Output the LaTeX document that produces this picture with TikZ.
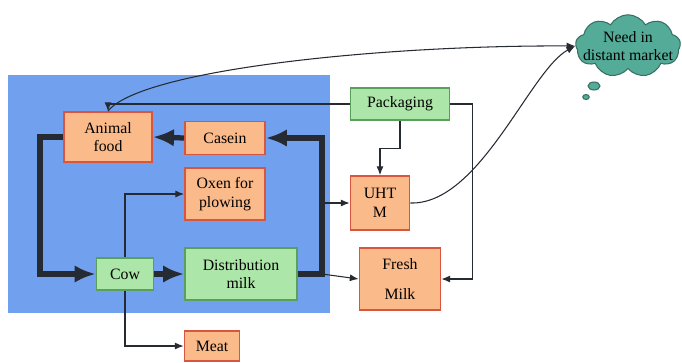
\documentclass[tikz,border=0pt]{standalone}
\usepackage{fontspec}
\setmainfont{Liberation Serif}
\usetikzlibrary{positioning, arrows.meta, calc, shapes}
\definecolor{bgblue}{RGB}{112,160,238}
\definecolor{boxorange}{RGB}{250,186,138}
\definecolor{edgered}{RGB}{216,86,64}
\definecolor{boxgreen}{RGB}{172,230,168}
\definecolor{edgegreen}{RGB}{88,160,92}
\definecolor{cloudteal}{RGB}{84,172,152}
\definecolor{linedark}{RGB}{38,42,50}

\begin{document}
\begin{tikzpicture}[x=0.02cm, y=0.02cm,
	product/.style={rectangle, draw=edgered, fill=boxorange, line width=1pt,
		align=center, font=\fontsize{9}{10.5}\selectfont, inner sep=1pt},
	stage/.style={rectangle, draw=edgegreen, fill=boxgreen, line width=1pt,
		align=center, font=\fontsize{9}{10.5}\selectfont, inner sep=1pt},
	mainflow/.style={-{Latex[length=12pt, width=10pt]}, line width=3pt, draw=linedark},
	flow/.style={-{Latex[length=5pt, width=4pt]}, line width=0.6pt, draw=linedark}]
		
		\useasboundingbox (0,0) rectangle (682,-362);
		
		%Background
		\fill[bgblue] (8,-75) rectangle (330,-313);
		
		%Nodes
		\node (food) at (108,-137) [product, minimum width=1.76cm, minimum height=1cm]{Animal \\ food};
		\node (casein) at (225,-138) [product, minimum width=1.6cm, minimum height=0.66cm]{Casein};
		\node (oxen) at (225,-194) [product, minimum width=1.6cm, minimum height=1.04cm]{Oxen for \\ plowing};
		\node (cow) at (125,-274) [stage, minimum width=1.14cm, minimum height=0.64cm]{Cow};
		\node (dist) at (241,-274) [stage, minimum width=2.24cm, minimum height=1.04cm]{Distribution \\ milk};
		\node (meat) at (212,-346) [product, minimum width=1.1cm, minimum height=0.6cm]{Meat};
		\node (pack) at (400,-104) [stage, minimum width=1.98cm, minimum height=0.64cm]{Packaging};
		\node (uht) at (380,-203) [product, minimum width=1.18cm, minimum height=1.08cm]{UHT \\ M};
		\node (fresh) at (400,-279) [product, minimum width=1.62cm, minimum height=1.24cm]{Fresh \\[7pt] Milk};
		
		\node (market) at (628,-46) [cloud, cloud puffs=9, cloud puff arc=120, aspect=1.7,
		draw=cloudteal!65!black, fill=cloudteal, line width=0.6pt, minimum width=2.1cm,
		minimum height=1.25cm, inner sep=0pt,
		label={[font=\fontsize{9}{10.5}\selectfont, align=center]center:Need in \\ distant market}]{};
		\node (bubA) at (594,-86) [ellipse, draw=cloudteal!65!black, fill=cloudteal, line width=0.6pt,
		minimum width=0.24cm, minimum height=0.16cm, inner sep=0pt]{};
		\node (bubB) at (586,-97) [ellipse, draw=cloudteal!65!black, fill=cloudteal, line width=0.6pt,
		minimum width=0.13cm, minimum height=0.1cm, inner sep=0pt]{};
		
		\coordinate (rbend) at (322,-138);
		\coordinate (lbend) at (40,-137);
		
		%Links
		\draw[mainflow] (dist.east) -| (rbend) -- (casein.east);
		\draw[mainflow] (casein.west) -- (food.east);
		\draw[mainflow] (food.west) -- (lbend) |- (cow.west);
		\draw[mainflow] (cow.east) -- (dist.west);
		
		\draw[flow] (rbend |- uht.west) -- (uht.west);
		\draw[flow] (rbend |- dist.east) -- (fresh.west);
		\draw[flow] (cow.north) |- (oxen.west);
		\draw[flow] (cow.south) |- (meat.west);
		\draw[flow] (pack.south) -- ++(0,-28) -| (uht.north);
		\draw[flow] (pack.east) -- ++(22,0) |- (fresh.east);
		\draw[flow] (pack.west) -| (food.north);
		\draw[flow] (food.north) .. controls (140,-70) and (380,-45) .. (market.west);
		\draw[flow] (uht.east) .. controls (480,-205) and (530,-70) .. (market.west);
		
\end{tikzpicture}
\end{document}
